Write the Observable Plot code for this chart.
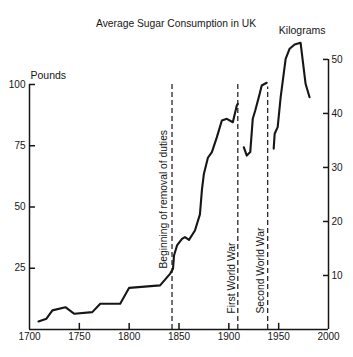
<!DOCTYPE html>
<html>
<head>
<meta charset="utf-8">
<script src="https://cdn.jsdelivr.net/npm/d3@7"></script>
<script src="https://cdn.jsdelivr.net/npm/@observablehq/plot@0.6"></script>
<style>
  html, body { margin: 0; padding: 0; background: #fff; }
  svg { display: block; }
</style>
</head>
<body>
<div id="chart"></div>
<script>
const title = "Average Sugar Consumption in UK";
const leftLabel = "Pounds";
const rightLabel = "Kilograms";
const LB_PER_KG = 2.20462;

const poundTicks = [25, 50, 75, 100];
const kgTicks = [10, 20, 30, 40, 50];
const yearTicks = [1700, 1750, 1800, 1850, 1900, 1950, 2000];

// Period up to the First World War
const years1 = [1709, 1717, 1723, 1736, 1745, 1763, 1771, 1791, 1800, 1831, 1841, 1844, 1845, 1848, 1853, 1856, 1860, 1866, 1871, 1873, 1875, 1879, 1883, 1888, 1893, 1898, 1904, 1908, 1909];
const pounds1 = [3.3, 4.4, 7.8, 9.1, 6.4, 7.1, 10.5, 10.5, 17, 18, 22.7, 24.8, 30.2, 34.3, 37, 37.7, 36.6, 40.4, 47, 57, 63.6, 70.1, 72.4, 78.5, 85.3, 86, 84.6, 91.4, 92.1];
// Between the wars
const years2 = [1915, 1918, 1921.5, 1924, 1926.5, 1930.5, 1933, 1938];
const pounds2 = [74.4, 71, 72.4, 86, 89.4, 95.5, 99.6, 100.7];
// After the Second World War
const years3 = [1945, 1946, 1949, 1952, 1957, 1961, 1966, 1972, 1977, 1981];
const pounds3 = [73.8, 79.9, 82.6, 94.8, 110.5, 114.6, 116.3, 117, 100.3, 94.8];

const eventYears = [1843, 1909, 1939];
const eventLabels = ["Beginning of removal of duties", "First World War", "Second World War"];
const eventTops = [100.8, 100.8, 99];

const series = [
  ...years1.map((y, i) => ({year: y, lb: pounds1[i], period: "a"})),
  ...years2.map((y, i) => ({year: y, lb: pounds2[i], period: "b"})),
  ...years3.map((y, i) => ({year: y, lb: pounds3[i], period: "c"}))
];
const events = eventYears.map((y, i) => ({year: y, label: eventLabels[i], top: eventTops[i]}));

const ink = "#161616";
const font = "'Liberation Sans', Arial, sans-serif";

const chart = Plot.plot({
  width: 353,
  height: 357,
  marginLeft: 29,
  marginRight: 25,
  marginTop: 84,
  marginBottom: 28,
  style: {fontFamily: font, fontSize: "10px", color: ink, background: "#fff"},
  x: {domain: [1700, 2000], axis: null},
  y: {domain: [0, 100], axis: null},
  marks: [
    // axes lines
    Plot.ruleY([0], {x1: 1700, x2: 2000, stroke: ink, strokeWidth: 1.5}),
    Plot.ruleX([1700], {y1: 0, y2: 100, stroke: ink, strokeWidth: 1.5}),
    Plot.ruleX([2000], {y1: 0, y2: 50 * LB_PER_KG, stroke: ink, strokeWidth: 1.5}),
    // inward ticks
    Plot.ruleY(poundTicks, {x1: 1700, x2: 1706, stroke: ink, strokeWidth: 1.5}),
    Plot.ruleY(kgTicks.map(k => k * LB_PER_KG), {x1: 1995, x2: 2000, stroke: ink, strokeWidth: 1.5}),
    Plot.ruleX(yearTicks.slice(1, -1), {y1: 0, y2: 2.5, stroke: ink, strokeWidth: 1.5}),
    // tick labels
    Plot.text(poundTicks, {x: 1700, y: d => d, text: d => String(d), textAnchor: "end", dx: -4, fontSize: 10, fill: ink}),
    Plot.text(kgTicks, {x: 2000, y: d => d * LB_PER_KG, text: d => String(d), textAnchor: "start", dx: 3, fontSize: 10, fill: ink}),
    Plot.text(yearTicks, {x: d => d, y: 0, text: d => String(d), dy: 7, fontSize: 10, fill: ink}),
    // axis titles and chart title
    Plot.text([leftLabel], {x: 1700, y: 100, textAnchor: "start", dx: 1, dy: -9, fontSize: 10.5, fill: ink}),
    Plot.text([rightLabel], {x: 2000, y: 50 * LB_PER_KG, textAnchor: "end", dx: -3, dy: -29, fontSize: 10.5, fill: ink}),
    Plot.text([title], {frameAnchor: "top", dx: -3, dy: -65, fontSize: 10.3, fill: ink}),
    // event dashed lines
    Plot.ruleX(events, {x: "year", y1: 0, y2: "top", stroke: ink, strokeWidth: 1.2, strokeDasharray: "5,3"}),
    // event labels
    Plot.text(events.slice(0, 1), {x: "year", y: 0, text: "label", rotate: -90, textAnchor: "start", dx: -8.5, dy: -61, fontSize: 10.3, fill: ink}),
    Plot.text(events.slice(1, 2), {x: "year", y: 0, text: "label", rotate: -90, textAnchor: "start", dx: -6, dy: -16, fontSize: 10.3, fill: ink}),
    Plot.text(events.slice(2, 3), {x: "year", y: 0, text: "label", rotate: -90, textAnchor: "start", dx: -7, dy: -16, fontSize: 10.3, fill: ink}),
    // consumption line
    Plot.line(series, {x: "year", y: "lb", z: "period", stroke: ink, strokeWidth: 2.1, strokeLinejoin: "round", curve: "linear"})
  ]
});
document.getElementById("chart").appendChild(chart);
</script>
</body>
</html>
